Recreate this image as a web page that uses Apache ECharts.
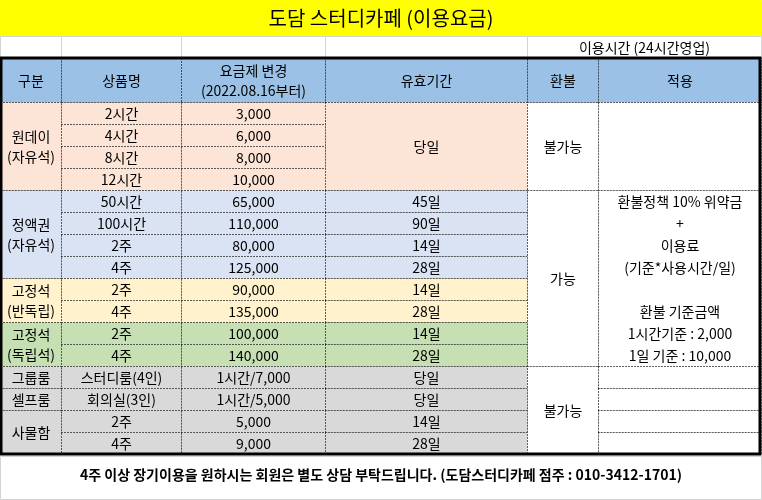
<!DOCTYPE html>
<html><head><meta charset="utf-8">
<script src="https://cdn.jsdelivr.net/npm/echarts@6/dist/echarts.min.js"></script>
<style>html,body{margin:0;padding:0;background:#fff}#c{width:762px;height:500px}</style>
</head><body><div id="c"></div>
<script>
var title = '도담 스터디카페 (이용요금)';
var hoursNote = '이용시간 (24시간영업)';
var headers = ['구분', '상품명', '요금제 변경\n(2022.08.16부터)', '유효기간', '환불', '적용'];
var groups = ['원데이\n(자유석)', '정액권\n(자유석)', '고정석\n(반독립)', '고정석\n(독립석)', '그룹룸', '셀프룸', '사물함'];
var groupRows = [[0, 4], [4, 8], [8, 10], [10, 12], [12, 13], [13, 14], [14, 16]];
var groupFills = ['#fce4d6', '#dae3f3', '#fff2cc', '#c6e0b4', '#d9d9d9', '#d9d9d9', '#d9d9d9'];
var products = ['2시간', '4시간', '8시간', '12시간', '50시간', '100시간', '2주', '4주', '2주', '4주', '2주', '4주', '스터디룸(4인)', '회의실(3인)', '2주', '4주'];
var prices = ['3,000', '6,000', '8,000', '10,000', '65,000', '110,000', '80,000', '125,000', '90,000', '135,000', '100,000', '140,000', '1시간/7,000', '1시간/5,000', '5,000', '9,000'];
var periods = ['45일', '90일', '14일', '28일', '14일', '28일', '14일', '28일', '당일', '당일', '14일', '28일'];
var refund = ['불가능', '가능', '불가능'];
var applyText = '환불정책 10% 위약금\n+\n이용료\n(기준*사용시간/일)\n\n환불 기준금액\n1시간기준 : 2,000\n1일 기준 : 10,000';
var footer = '4주 이상 장기이용을 원하시는 회원은 별도 상담 부탁드립니다. (도담스터디카페 점주 : 010-3412-1701)';

// layout grid
var colX = [0, 61, 181, 325, 527, 598, 761];
var bodyY = 102, rowH = 22;
function rY(r) { return bodyY + r * rowH; }

var cells = []; // [x0,y0,x1,y1,text,fill,opts]
function cell(c0, c1, y0, y1, text, fill, o) { cells.push([colX[c0], y0, colX[c1], y1, text, fill || '#fff', o || {}]); }

cell(0, 6, 0, 36, title, '#ffff00', {size: 20, border: '#ffff00', solid: true});
for (var c = 0; c < 4; c++) cell(c, c + 1, 36, 58, '', '#fff', {border: '#d4d4d4', solid: true});
cell(4, 6, 36, 58, hoursNote, '#fff', {border: '#d4d4d4', solid: true});
headers.forEach(function (h, i) { cell(i, i + 1, 58, 102, h, '#9bc2e6'); });
groups.forEach(function (g, i) {
  var f = groupFills[i], a = groupRows[i][0], b = groupRows[i][1];
  cell(0, 1, rY(a), rY(b), g, f);
  for (var r = a; r < b; r++) {
    cell(1, 2, rY(r), rY(r + 1), products[r], f);
    cell(2, 3, rY(r), rY(r + 1), prices[r], f);
  }
});
cell(3, 4, rY(0), rY(4), '당일', '#fce4d6');
for (var r = 4; r < 16; r++) cell(3, 4, rY(r), rY(r + 1), periods[r - 4], groupFills[groupRows.findIndex(function (g) { return r >= g[0] && r < g[1]; })]);
cell(4, 5, rY(0), rY(4), refund[0]);
cell(4, 5, rY(4), rY(12), refund[1]);
cell(4, 5, rY(12), rY(16), refund[2]);
cell(5, 6, rY(0), rY(4), '');
cell(5, 6, rY(4), rY(12), applyText, '#fff', {lh: 22});
for (var r = 12; r < 16; r++) cell(5, 6, rY(r), rY(r + 1), '');
cell(0, 6, 456, 499, footer, '#fff', {bold: true, size: 14, border: '#d4d4d4', solid: true, dy: -3});
var frame = [[0, 58, 760, rY(16)]];

var chart = echarts.init(document.getElementById('c'));
chart.setOption({
  animation: false,
  grid: {left: 0, right: 0, top: 0, bottom: 0},
  xAxis: {type: 'value', min: 0, max: 762, show: false},
  yAxis: {type: 'value', min: 0, max: 500, inverse: true, show: false},
  series: [{
    type: 'custom',
    data: cells.map(function (c) { return [c[0], c[1], c[2], c[3]]; }),
    renderItem: function (params, api) {
      var c = cells[params.dataIndex];
      var p0 = api.coord([api.value(0), api.value(1)]);
      var p1 = api.coord([api.value(2), api.value(3)]);
      var o = c[6];
      return {
        type: 'rect',
        shape: {x: p0[0] + 0.5, y: p0[1] + 0.5, width: p1[0] - p0[0], height: p1[1] - p0[1]},
        style: {fill: c[5], stroke: o.border || '#000', lineWidth: 1, lineDash: o.solid ? null : [1, 2]},
        textContent: {
          style: {
            text: c[4], fill: '#000', fontSize: o.size || 14, lineHeight: o.lh || 20,
            fontWeight: o.bold ? 'bold' : 'normal',
            fontFamily: '"Noto Sans CJK KR", sans-serif', align: 'center'
          }
        },
        textConfig: {position: 'inside', offset: [0, o.dy || 0]}
      };
    }
  }, {
    type: 'custom',
    data: frame,
    renderItem: function (params, api) {
      var p0 = api.coord([api.value(0), api.value(1)]);
      var p1 = api.coord([api.value(2), api.value(3)]);
      return {
        type: 'rect',
        shape: {x: p0[0] + 1, y: p0[1], width: p1[0] - p0[0] - 1, height: p1[1] - p0[1]},
        style: {fill: 'none', stroke: '#000', lineWidth: 3}
      };
    }
  }]
});
</script></body></html>
